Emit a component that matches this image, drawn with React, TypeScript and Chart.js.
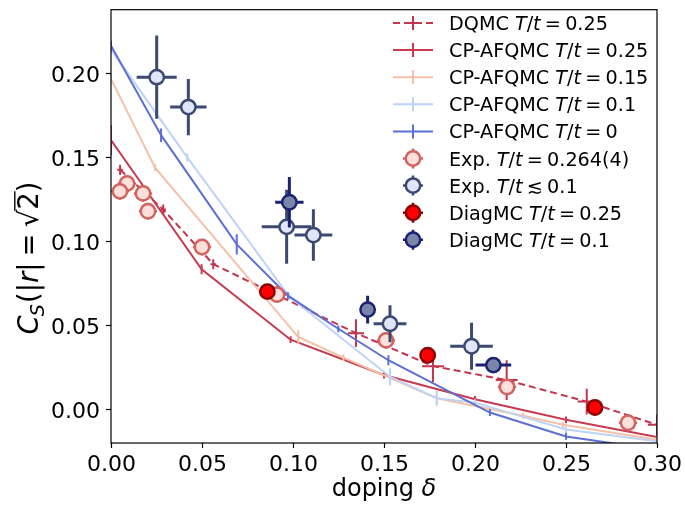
import React, { useEffect, useRef } from "react";
import { Chart, registerables } from "chart.js";
Chart.register(...registerables);

const W = 685;
const H = 507;
const FONT = '"DejaVu Sans", sans-serif';

// ---------- axis ----------
const xTicks = [0, 0.05, 0.1, 0.15, 0.2, 0.25, 0.3];
const yTicks = [0, 0.05, 0.1, 0.15, 0.2];
const xRange = [0, 0.3];
const yRange = [-0.02, 0.2376];

// ---------- DQMC T/t = 0.25 ----------
const dqmcX = [0.005, 0.0287, 0.0562, 0.1346, 0.1769, 0.2174, 0.2614, 0.3];
const dqmcY = [0.1424, 0.1188, 0.0863, 0.0453, 0.0257, 0.0174, 0.0046, -0.0092];
const dqmcXErr = [0.0015, 0.0015, 0.0015, 0.0044, 0.006, 0.006, 0.005, 0.005];
const dqmcYErr = [0.003, 0.003, 0.003, 0.0083, 0.0094, 0.0118, 0.0077, 0.006];

// ---------- CP-AFQMC ----------
const cp25X = [0, 0.0498, 0.0987, 0.15, 0.2, 0.25, 0.3];
const cp25Y = [0.1601, 0.0833, 0.0414, 0.0204, 0.006, -0.0062, -0.0164];
const cp25Err = [0.009, 0.003, 0.002, 0.002, 0.002, 0.002, 0.002];

const cp15X = [0, 0.0242, 0.1029, 0.1277, 0.179, 0.2265, 0.2484, 0.3];
const cp15Y = [0.1965, 0.1437, 0.043, 0.0308, 0.0066, -0.0038, -0.0092, -0.0181];
const cp15Err = [0.003, 0.002, 0.004, 0.002, 0.0045, 0.002, 0.002, 0.002];

const cp10X = [0, 0.0419, 0.098, 0.1533, 0.179, 0.2, 0.25, 0.3];
const cp10Y = [0.214, 0.1498, 0.067, 0.0194, 0.0066, 0.004, -0.012, -0.019];
const cp10Err = [0.003, 0.0025, 0.002, 0.005, 0.004, 0.002, 0.002, 0.002];

const cp0X = [0, 0.0275, 0.0691, 0.0972, 0.1249, 0.1524, 0.2082, 0.25, 0.3];
const cp0Y = [0.2162, 0.163, 0.0981, 0.0676, 0.0479, 0.0292, -0.0019, -0.0161, -0.024];
const cp0Err = [0.003, 0.004, 0.006, 0.002, 0.002, 0.003, 0.002, 0.002, 0.002];

// ---------- Experiment ----------
const expHotX = [0.0088, 0.0049, 0.0176, 0.0203, 0.05, 0.0912, 0.1511, 0.2176, 0.2841];
const expHotY = [0.1343, 0.1296, 0.1284, 0.1178, 0.0965, 0.0682, 0.041, 0.0133, -0.008];
const expHotXErr = [0.005, 0.005, 0.005, 0.005, 0.005, 0.005, 0.005, 0.005, 0.005];
const expHotYErr = [0.005, 0.005, 0.005, 0.005, 0.005, 0.005, 0.005, 0.005, 0.005];

const expColdX = [0.0251, 0.0425, 0.0965, 0.1112, 0.1533, 0.1981];
const expColdY = [0.1975, 0.1797, 0.1085, 0.1036, 0.0509, 0.0375];
const expColdXErr = [0.011, 0.01, 0.0137, 0.0104, 0.009, 0.0117];
const expColdYErr = [0.0248, 0.0167, 0.022, 0.0153, 0.011, 0.014];

// ---------- DiagMC ----------
const dmc25X = [0.0859, 0.174, 0.2659];
const dmc25Y = [0.07, 0.0322, 0.0011];
const dmc25Err = [0.001, 0.001, 0.001];

const dmc10X = [0.098, 0.141, 0.2101];
const dmc10Y = [0.1231, 0.0593, 0.0263];
const dmc10XErr = [0.0078, 0.003, 0.0098];
const dmc10YErr = [0.015, 0.0083, 0.004];

// ---------- legend ----------
const legendLabels = [
  "DQMC $T/t=0.25$",
  "CP-AFQMC $T/t=0.25$",
  "CP-AFQMC $T/t=0.15$",
  "CP-AFQMC $T/t=0.1$",
  "CP-AFQMC $T/t=0$",
  "Exp. $T/t=0.264(4)$",
  "Exp. $T/t≲0.1$",
  "DiagMC $T/t=0.25$",
  "DiagMC $T/t=0.1$",
];
const xTitle = "doping $δ$";

const C = {
  dqmc: "#c3354f",
  cp25: "#c73a50",
  cp15: "#f6c0a6",
  cp10: "#bdd3f7",
  cp0: "#5b6fd5",
  hotFill: "#fde0db",
  hotEdge: "#d4625f",
  coldFill: "#e1e5f8",
  coldEdge: "#3c4a72",
  redFill: "#ff0000",
  redEdge: "#8b0000",
  navyFill: "#7a86a8",
  navyEdge: "#1b2272",
};

const pts = (xs: number[], ys: number[]) => xs.map((x, i) => ({ x, y: ys[i] }));

type Seg = { t: string; it: boolean; pad?: boolean };
function parseMath(label: string): Seg[] {
  const segs: Seg[] = [];
  let inMath = false;
  let buf = "";
  const flush = () => {
    if (buf) segs.push({ t: buf, it: false });
    buf = "";
  };
  for (const ch of label) {
    if (ch === "$") {
      flush();
      inMath = !inMath;
      continue;
    }
    if (!inMath) {
      buf += ch;
      continue;
    }
    if (/[A-Za-zδ]/.test(ch)) {
      flush();
      segs.push({ t: ch, it: true });
    } else if (ch === "=" || ch === "≲") {
      flush();
      segs.push({ t: ch, it: false, pad: true });
    } else buf += ch;
  }
  flush();
  return segs;
}

function segFont(s: Seg, size: number) {
  return `${s.it ? "italic " : ""}${size}px ${FONT}`;
}
function segsWidth(ctx: CanvasRenderingContext2D, segs: Seg[], size: number) {
  let w = 0;
  for (const s of segs) {
    ctx.font = segFont(s, size);
    w += ctx.measureText(s.t).width + (s.pad ? size * 0.44 : 0);
  }
  return w;
}
function drawSegs(
  ctx: CanvasRenderingContext2D,
  segs: Seg[],
  x: number,
  y: number,
  size: number,
  align: "left" | "center"
) {
  let cx = align === "center" ? x - segsWidth(ctx, segs, size) / 2 : x;
  ctx.textAlign = "left";
  ctx.textBaseline = "alphabetic";
  for (const s of segs) {
    ctx.font = segFont(s, size);
    if (s.pad) cx += size * 0.22;
    ctx.fillText(s.t, cx, y);
    cx += ctx.measureText(s.t).width;
    if (s.pad) cx += size * 0.22;
  }
}

function drawYLabel(ctx: CanvasRenderingContext2D, cxp: number, cyp: number, S: number) {
  ctx.save();
  ctx.translate(cxp, cyp);
  ctx.rotate(-Math.PI / 2);
  ctx.fillStyle = "#000";
  ctx.strokeStyle = "#000";
  ctx.textBaseline = "alphabetic";
  ctx.textAlign = "left";
  const it = `italic ${S}px ${FONT}`;
  const up = `${S}px ${FONT}`;
  const sub = `italic ${S * 0.7}px ${FONT}`;
  const parts: { t: string; f: string; dy?: number; pre?: number; post?: number; over?: boolean }[] = [
    { t: "C", f: it },
    { t: "S", f: sub, dy: S * 0.22, pre: -S * 0.04 },
    { t: "(", f: up, pre: S * 0.04 },
    { t: "|", f: up },
    { t: "r", f: it },
    { t: "|", f: up },
    { t: "=", f: up, pre: S * 0.22, post: S * 0.22 },
    { t: "√", f: up },
    { t: "2", f: up, over: true },
    { t: ")", f: up },
  ];
  let total = 0;
  for (const p of parts) {
    ctx.font = p.f;
    total += ctx.measureText(p.t).width + (p.pre || 0) + (p.post || 0);
  }
  let x = -total / 2;
  const base = S * 0.36;
  for (const p of parts) {
    ctx.font = p.f;
    x += p.pre || 0;
    const w = ctx.measureText(p.t).width;
    ctx.fillText(p.t, x, base + (p.dy || 0));
    if (p.over) {
      ctx.lineWidth = S * 0.05;
      ctx.beginPath();
      ctx.moveTo(x - 1, base - S * 0.84);
      ctx.lineTo(x + w + 1, base - S * 0.84);
      ctx.stroke();
    }
    x += w + (p.post || 0);
  }
  ctx.restore();
}

function circle(ctx: CanvasRenderingContext2D, x: number, y: number, r: number, fill: string, edge: string, lw: number) {
  ctx.beginPath();
  ctx.arc(x, y, r, 0, Math.PI * 2);
  ctx.fillStyle = fill;
  ctx.fill();
  ctx.lineWidth = lw;
  ctx.strokeStyle = edge;
  ctx.stroke();
}

const errorBarPlugin = {
  id: "errbars",
  beforeDatasetDraw(chart: any, args: any) {
    const ds = chart.data.datasets[args.index];
    if (!ds.errX && !ds.errY) return;
    const { ctx, chartArea: a } = chart;
    const xs = chart.scales.x;
    const ys = chart.scales.y;
    ctx.save();
    ctx.beginPath();
    ctx.rect(a.left, a.top, a.right - a.left, a.bottom - a.top);
    ctx.clip();
    ctx.setLineDash([]);
    ctx.strokeStyle = ds.errColor;
    ctx.lineWidth = ds.errWidth;
    ds.data.forEach((p: any, i: number) => {
      const px = xs.getPixelForValue(p.x);
      const py = ys.getPixelForValue(p.y);
      if (ds.errX) {
        const e = ds.errX[i];
        ctx.beginPath();
        ctx.moveTo(xs.getPixelForValue(p.x - e), py);
        ctx.lineTo(xs.getPixelForValue(p.x + e), py);
        ctx.stroke();
      }
      if (ds.errY) {
        const e = ds.errY[i];
        ctx.beginPath();
        ctx.moveTo(px, ys.getPixelForValue(p.y - e));
        ctx.lineTo(px, ys.getPixelForValue(p.y + e));
        ctx.stroke();
      }
    });
    ctx.restore();
  },
};

const axesPlugin = {
  id: "axesDecor",
  afterDraw(chart: any) {
    const { ctx, chartArea: a } = chart;
    const xs = chart.scales.x;
    const ys = chart.scales.y;
    ctx.save();
    ctx.setLineDash([]);
    // frame
    ctx.strokeStyle = "#000";
    ctx.lineWidth = 1.2;
    ctx.strokeRect(a.left, a.top, a.right - a.left, a.bottom - a.top);
    // ticks
    ctx.fillStyle = "#000";
    ctx.font = `22px ${FONT}`;
    for (const v of yTicks) {
      const py = Math.round(ys.getPixelForValue(v)) + 0.5;
      ctx.beginPath();
      ctx.moveTo(a.left - 5, py);
      ctx.lineTo(a.left, py);
      ctx.stroke();
      ctx.textAlign = "right";
      ctx.textBaseline = "alphabetic";
      ctx.fillText(v.toFixed(2), a.left - 11, py + 8);
    }
    for (const v of xTicks) {
      const px = Math.round(xs.getPixelForValue(v)) + 0.5;
      ctx.beginPath();
      ctx.moveTo(px, a.bottom);
      ctx.lineTo(px, a.bottom + 5);
      ctx.stroke();
      ctx.textAlign = "center";
      ctx.textBaseline = "alphabetic";
      ctx.fillText(v.toFixed(2), px, a.bottom + 28);
    }
    // axis titles
    drawSegs(ctx, parseMath(xTitle), (a.left + a.right) / 2, 496, 24, "center");
    drawYLabel(ctx, 28, 258, 27.5);

    // legend
    const hx0 = 393;
    const hx1 = 433;
    const hc = 413;
    const tx = 449;
    legendLabels.forEach((lab, i) => {
      const y = 23 + i * 27.1;
      ctx.save();
      if (i <= 4) {
        const col = [C.dqmc, C.cp25, C.cp15, C.cp10, C.cp0][i];
        ctx.strokeStyle = col;
        ctx.lineWidth = 2;
        ctx.setLineDash(i === 0 ? [7, 4] : []);
        ctx.beginPath();
        ctx.moveTo(hx0, y);
        ctx.lineTo(hx1, y);
        ctx.stroke();
        ctx.setLineDash([]);
        ctx.beginPath();
        ctx.moveTo(hc, y - 7);
        ctx.lineTo(hc, y + 7);
        ctx.stroke();
        if (i === 0) {
          ctx.beginPath();
          ctx.moveTo(hc - 7, y);
          ctx.lineTo(hc + 7, y);
          ctx.stroke();
        }
      } else {
        const sty = [
          [C.hotFill, C.hotEdge],
          [C.coldFill, C.coldEdge],
          [C.redFill, C.redEdge],
          [C.navyFill, C.navyEdge],
        ][i - 5];
        ctx.strokeStyle = sty[1];
        ctx.lineWidth = 2.5;
        ctx.beginPath();
        ctx.moveTo(hc - 10, y);
        ctx.lineTo(hc + 10, y);
        ctx.moveTo(hc, y - 10);
        ctx.lineTo(hc, y + 10);
        ctx.stroke();
        circle(ctx, hc, y, 7.2, sty[0], sty[1], 2.5);
      }
      ctx.restore();
      ctx.fillStyle = "#000";
      drawSegs(ctx, parseMath(lab), tx, y + 7, 19.2, "left");
    });
    ctx.restore();
  },
};

export default function App() {
  const ref = useRef<HTMLCanvasElement | null>(null);
  useEffect(() => {
    if (!ref.current) return;
    const lineDs = (label: string, xs: number[], ys: number[], err: number[], color: string, order: number, dashed = false, xerr?: number[]) => ({
      label,
      data: pts(xs, ys),
      showLine: true,
      borderColor: color,
      backgroundColor: color,
      borderWidth: 2,
      borderDash: dashed ? [7, 4] : [],
      pointRadius: 0,
      tension: 0,
      order,
      errY: err,
      errX: xerr,
      errColor: color,
      errWidth: 2,
    });
    const markDs = (label: string, xs: number[], ys: number[], xerr: number[], yerr: number[], fill: string, edge: string, order: number, ew: number) => ({
      label,
      data: pts(xs, ys),
      showLine: false,
      pointRadius: 7.2,
      pointBorderWidth: 2.5,
      pointBackgroundColor: fill,
      pointBorderColor: edge,
      backgroundColor: fill,
      borderColor: edge,
      order,
      errX: xerr,
      errY: yerr,
      errColor: edge,
      errWidth: ew,
    });
    const chart = new Chart(ref.current, {
      type: "scatter",
      data: {
        datasets: [
          lineDs(legendLabels[0], dqmcX, dqmcY, dqmcYErr, C.dqmc, 20, true, dqmcXErr),
          lineDs(legendLabels[1], cp25X, cp25Y, cp25Err, C.cp25, 19),
          lineDs(legendLabels[2], cp15X, cp15Y, cp15Err, C.cp15, 18),
          lineDs(legendLabels[3], cp10X, cp10Y, cp10Err, C.cp10, 17),
          lineDs(legendLabels[4], cp0X, cp0Y, cp0Err, C.cp0, 16),
          markDs(legendLabels[5], expHotX, expHotY, expHotXErr, expHotYErr, C.hotFill, C.hotEdge, 4, 2.5),
          markDs(legendLabels[6], expColdX, expColdY, expColdXErr, expColdYErr, C.coldFill, C.coldEdge, 3, 3),
          markDs(legendLabels[7], dmc25X, dmc25Y, dmc25Err, dmc25Err, C.redFill, C.redEdge, 2, 2.5),
          markDs(legendLabels[8], dmc10X, dmc10Y, dmc10XErr, dmc10YErr, C.navyFill, C.navyEdge, 1, 3),
        ] as any,
      },
      options: {
        responsive: false,
        animation: false,
        devicePixelRatio: 1,
        events: [],
        layout: { padding: { left: 111, right: 28, top: 7, bottom: 64 } },
        scales: {
          x: { type: "linear", display: false, min: xRange[0], max: xRange[1] },
          y: { type: "linear", display: false, min: yRange[0], max: yRange[1] },
        },
        plugins: { legend: { display: false }, tooltip: { enabled: false } },
      },
      plugins: [errorBarPlugin, axesPlugin],
    });
    return () => chart.destroy();
  }, []);
  return (
    <div style={{ position: "absolute", left: 0, top: 0, width: W, height: H, background: "#fff" }}>
      <canvas ref={ref} width={W} height={H} style={{ display: "block" }} />
    </div>
  );
}
